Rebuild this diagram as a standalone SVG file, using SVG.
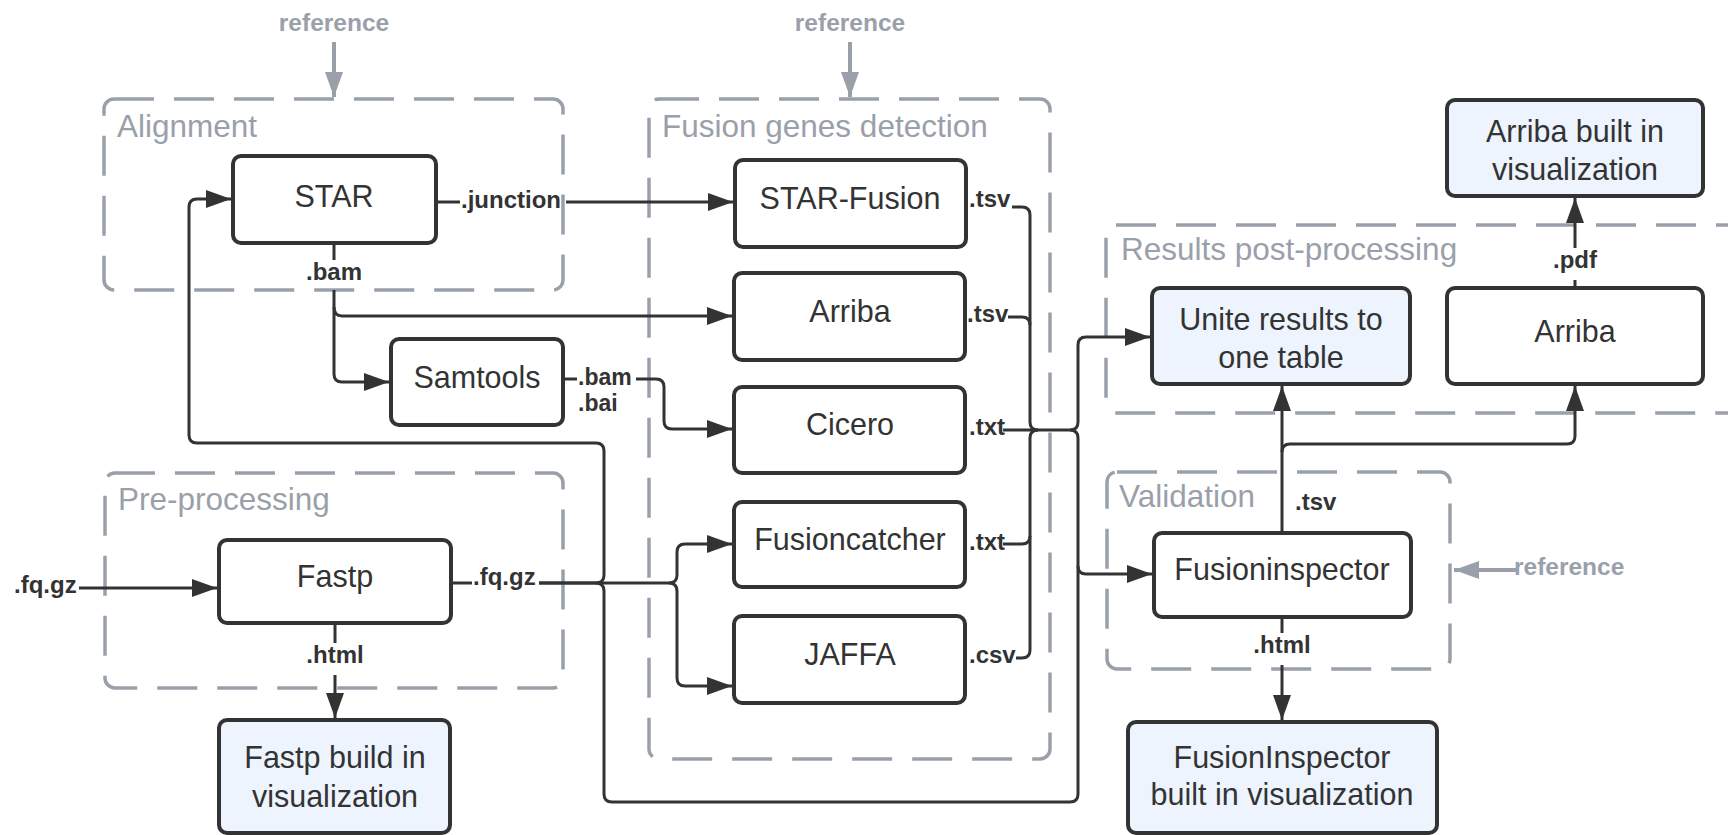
<svg xmlns="http://www.w3.org/2000/svg" width="1728" height="835" viewBox="0 0 1728 835">
<defs>
<marker id="ah" markerUnits="userSpaceOnUse" markerWidth="25" markerHeight="18" refX="25" refY="9" orient="auto"><path d="M0,0 L25,9 L0,18 z" fill="#333"/></marker>
<marker id="ahg" markerUnits="userSpaceOnUse" markerWidth="25" markerHeight="18" refX="25" refY="9" orient="auto"><path d="M0,0 L25,9 L0,18 z" fill="#9aa0aa"/></marker>
<style>
.grp{fill:none;stroke:#9aa0aa;stroke-width:3.5;stroke-dasharray:40 20}
.gl{font-family:"Liberation Sans",Arial,sans-serif;font-size:31.5px;fill:#9aa0aa}
.nd{fill:#fff;stroke:#333;stroke-width:4}
.nb{fill:#edf4fe;stroke:#333;stroke-width:4}
.nt{font-family:"Liberation Sans",Arial,sans-serif;font-size:30.5px;fill:#333;text-anchor:middle}
.c{fill:none;stroke:#333;stroke-width:3}
.ca{fill:none;stroke:#333;stroke-width:3;marker-end:url(#ah)}
.cg{fill:none;stroke:#9aa0aa;stroke-width:4;marker-end:url(#ahg)}
.el{font-family:"Liberation Sans",Arial,sans-serif;font-size:24px;font-weight:bold;fill:#333}
.es{font-family:"Liberation Sans",Arial,sans-serif;font-size:23px;font-weight:bold;fill:#333}
.rl{font-family:"Liberation Sans",Arial,sans-serif;font-size:24.5px;font-weight:bold;fill:#9aa0aa}
</style>
</defs>
<rect width="1728" height="835" fill="#fff"/>

<g id="groups">
<g id="grp-alignment"><rect class="grp" x="104" y="99" width="459" height="191" rx="10"/><text class="gl" x="117" y="137">Alignment</text></g>
<g id="grp-fusion"><rect class="grp" x="649" y="99" width="401" height="660" rx="10"/><text class="gl" x="662" y="137">Fusion genes detection</text></g>
<g id="grp-pre"><rect class="grp" x="105" y="473" width="458" height="215" rx="10"/><text class="gl" x="118" y="510">Pre-processing</text></g>
<g id="grp-results"><rect class="grp" x="1106" y="225" width="660" height="188" rx="10"/><text class="gl" x="1121" y="260">Results post-processing</text></g>
<g id="grp-validation"><rect class="grp" x="1107" y="472" width="343" height="197" rx="10"/><text class="gl" x="1119" y="507">Validation</text></g>
</g>

<g id="connectors">
<path class="cg" d="M334 42 V97"/>
<path class="cg" d="M850 42 V97"/>
<path class="cg" d="M1516 570 H1454"/>
<path class="c" d="M436 202 H460"/>
<path class="ca" d="M566 202 H733"/>
<path class="c" d="M334 243 V260"/>
<path class="ca" d="M334 290 V374 Q334 382 342 382 H389"/>
<path class="ca" d="M334 307 Q334 316 342 316 H732"/>
<path class="c" d="M563 379 H577"/>
<path class="ca" d="M636 379 H656 Q664 379 664 387 V421 Q664 429 672 429 H732"/>
<path class="c" d="M79 588 H217" marker-end="url(#ah)"/>
<path class="c" d="M451 583 H472"/>
<path class="ca" d="M539 583 H669 Q677 583 677 575 V552 Q677 544 685 544 H732"/>
<path class="ca" d="M669 583 Q677 583 677 591 V678 Q677 686 685 686 H732"/>
<path class="ca" d="M596 583 Q604 583 604 575 V451 Q604 443 596 443 H197 Q189 443 189 435 V207 Q189 199 197 199 H231"/>
<path class="c" d="M539 583 H596 Q604 583 604 591 V794 Q604 802 612 802 H1070 Q1078 802 1078 794 V438 Q1078 430 1070 430"/>
<path class="c" d="M1012 207 H1022 Q1030 207 1030 215 V422 Q1030 430 1038 430"/>
<path class="c" d="M1008 317 H1022 Q1030 317 1030 325"/>
<path class="c" d="M1003 430 H1070 Q1078 430 1078 422"/>
<path class="ca" d="M1078 422 V345 Q1078 337 1086 337 H1150"/>
<path class="c" d="M1003 544 H1022 Q1030 544 1030 536"/>
<path class="c" d="M1016 658 H1022 Q1030 658 1030 650 V438 Q1030 430 1038 430"/>
<path class="ca" d="M1078 566 Q1078 574 1086 574 H1152"/>
<path class="ca" d="M1282 533 V386"/>
<path class="ca" d="M1282 452 Q1282 444 1290 444 H1567 Q1575 444 1575 436 V386"/>
<path class="c" d="M1282 617 V633"/>
<path class="ca" d="M1282 665 V720"/>
<path class="c" d="M1575 288 V280"/>
<path class="ca" d="M1575 248 V198"/>
<path class="c" d="M335 623 V643"/>
<path class="ca" d="M335 675 V718"/>
</g>

<g id="edge-labels">
<text class="rl" x="334" y="31" text-anchor="middle">reference</text>
<text class="rl" x="850" y="31" text-anchor="middle">reference</text>
<text class="rl" x="1514" y="575">reference</text>
<text class="el" x="461" y="208">.junction</text>
<text class="el" x="334" y="280" text-anchor="middle">.bam</text>
<text class="el" x="969" y="207">.tsv</text>
<text class="el" x="967" y="322">.tsv</text>
<text class="es" x="578" y="385">.bam</text>
<text class="es" x="578" y="411">.bai</text>
<text class="el" x="969" y="435">.txt</text>
<text class="el" x="969" y="550">.txt</text>
<text class="el" x="969" y="663">.csv</text>
<text class="el" x="14" y="593">.fq.gz</text>
<text class="el" x="473" y="585">.fq.gz</text>
<text class="el" x="335" y="663" text-anchor="middle">.html</text>
<text class="el" x="1295" y="510">.tsv</text>
<text class="el" x="1282" y="653" text-anchor="middle">.html</text>
<text class="el" x="1575" y="268" text-anchor="middle">.pdf</text>
</g>

<g id="n-star"><rect class="nd" x="233" y="156" width="203" height="87" rx="8"/><text class="nt" x="334" y="207">STAR</text></g>
<g id="n-starfusion"><rect class="nd" x="735" y="160" width="231" height="87" rx="8"/><text class="nt" x="850" y="209">STAR-Fusion</text></g>
<g id="n-arriba"><rect class="nd" x="734" y="273" width="231" height="87" rx="8"/><text class="nt" x="850" y="322">Arriba</text></g>
<g id="n-samtools"><rect class="nd" x="391" y="339" width="172" height="86" rx="8"/><text class="nt" x="477" y="388">Samtools</text></g>
<g id="n-cicero"><rect class="nd" x="734" y="387" width="231" height="86" rx="8"/><text class="nt" x="850" y="435">Cicero</text></g>
<g id="n-fusioncatcher"><rect class="nd" x="734" y="502" width="231" height="85" rx="8"/><text class="nt" x="850" y="550">Fusioncatcher</text></g>
<g id="n-jaffa"><rect class="nd" x="734" y="616" width="231" height="87" rx="8"/><text class="nt" x="850" y="665">JAFFA</text></g>
<g id="n-fastp"><rect class="nd" x="219" y="540" width="232" height="83" rx="8"/><text class="nt" x="335" y="587">Fastp</text></g>
<g id="n-fastpviz"><rect class="nb" x="219" y="720" width="231" height="113" rx="8"/><text class="nt" x="335" y="768">Fastp build in</text><text class="nt" x="335" y="807">visualization</text></g>
<g id="n-unite"><rect class="nb" x="1152" y="288" width="258" height="96" rx="8"/><text class="nt" x="1281" y="330">Unite results to</text><text class="nt" x="1281" y="368">one table</text></g>
<g id="n-arriba2"><rect class="nd" x="1447" y="288" width="256" height="96" rx="8"/><text class="nt" x="1575" y="342">Arriba</text></g>
<g id="n-arribaviz"><rect class="nb" x="1447" y="100" width="256" height="96" rx="8"/><text class="nt" x="1575" y="142">Arriba built in</text><text class="nt" x="1575" y="180">visualization</text></g>
<g id="n-fusioninspector"><rect class="nd" x="1154" y="533" width="257" height="84" rx="8"/><text class="nt" x="1282" y="580">Fusioninspector</text></g>
<g id="n-fiviz"><rect class="nb" x="1128" y="722" width="309" height="111" rx="8"/><text class="nt" x="1282" y="768">FusionInspector</text><text class="nt" x="1282" y="805">built in visualization</text></g>
</svg>
